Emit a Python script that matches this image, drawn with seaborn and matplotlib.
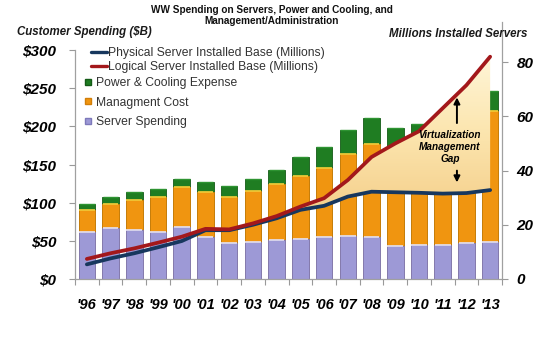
import numpy as np
import pandas as pd
import matplotlib
matplotlib.use("Agg")
import matplotlib.pyplot as plt
import seaborn as sns
from matplotlib.lines import Line2D
from matplotlib.colors import LinearSegmentedColormap

# ---- data -------------------------------------------------------------
years = ["'96", "'97", "'98", "'99", "'00", "'01", "'02", "'03", "'04",
         "'05", "'06", "'07", "'08", "'09", "'10", "'11", "'12", "'13"]
server_spending = [61, 67, 64, 61, 68.5, 54.7, 47, 48.5, 51, 53, 55.5, 57, 55.5, 43, 44.5, 45, 47.6, 49]
management_cost = [29, 32, 39, 46, 51.5, 59, 61, 66.5, 73, 82, 90.5, 107, 121, 129, 132, 143, 155, 171]
power_cooling = [8, 8, 11, 11, 11, 14, 14, 16, 19, 25, 27, 31, 34, 26, 27, 27, 27, 26]
physical_base = [5.4, 7.6, 9.5, 11.7, 14, 18, 18, 20, 22.4, 25.5, 27, 30.4, 32.2, 32, 31.8, 31.5, 31.7, 32.8]
logical_base = [7.4, 9.5, 11.3, 13.4, 15.6, 18.5, 18.3, 20.5, 23.2, 26.7, 29.8, 36.5, 45, 50, 54.5, 63, 71.5, 82]
left_ticks = [0, 50, 100, 150, 200, 250, 300]
left_tick_labels = ["$0", "$50", "$100", "$150", "$200", "$250", "$300"]
right_ticks = [0, 20, 40, 60, 80]

df = pd.DataFrame({"year": years, "server": server_spending,
                   "mgmt": management_cost, "power": power_cooling})
df["srv_mgmt"] = df["server"] + df["mgmt"]
df["total"] = df["srv_mgmt"] + df["power"]

PURPLE, PURPLE_EDGE = "#9D99D6", "#7D79BA"
ORANGE, ORANGE_EDGE = "#F09510", "#D27E08"
GREEN, GREEN_EDGE = "#1F7D22", "#145A16"
BLUE, RED = "#17375E", "#A3181B"

sns.set_theme(style="white")
plt.rcParams["font.family"] = ["Liberation Sans", "DejaVu Sans"]

fig = plt.figure(figsize=(5.5, 3.43), dpi=100)
ax = fig.add_axes([75 / 550, 64 / 343, 427 / 550, 257 / 343])

# ---- stacked bars (drawn back to front as cumulative totals) ----------
for col, fc, ec in [("total", GREEN, GREEN_EDGE),
                    ("srv_mgmt", ORANGE, ORANGE_EDGE),
                    ("server", PURPLE, PURPLE_EDGE)]:
    sns.barplot(data=df, x="year", y=col, ax=ax, color=fc, saturation=1,
                width=0.7, errorbar=None, edgecolor=ec, linewidth=0.6)

# light rim along the top of each segment
xs = np.arange(len(years))
ax.hlines(df["server"], xs - 0.33, xs + 0.33, color="#E4E2F6", lw=1.2, zorder=3)
ax.hlines(df["srv_mgmt"], xs - 0.33, xs + 0.33, color="#F8CF3A", lw=1.2, zorder=3)
ax.hlines(df["total"], xs - 0.33, xs + 0.33, color="#2E9432", lw=1.0, zorder=3)

ax.set_xlim(-0.5, 17.5)
ax.set_ylim(0, 337)
ax.set_xlabel("")
ax.set_ylabel("")
ax.set_yticks(left_ticks)
ax.set_yticklabels(left_tick_labels)
ax.set_xticks(xs)
ax.set_xticklabels(years)
ax.set_xticks(np.arange(-0.5, 18, 1), minor=True)

tick_font = dict(fontsize=11, fontweight="bold", fontstyle="italic", color="black")
for lbl in ax.get_yticklabels():
    lbl.set(**tick_font)
for lbl in ax.get_xticklabels():
    lbl.set(**{**tick_font, "fontsize": 10.5})

ax.tick_params(axis="y", left=True, length=4, width=0.8, color="#999999", pad=9.5)
ax.tick_params(axis="x", which="major", bottom=True, length=0, pad=14)
ax.tick_params(axis="x", which="minor", bottom=True, length=4, width=0.8, color="#999999")

for side in ["top", "right"]:
    ax.spines[side].set_visible(False)
for side in ["left", "bottom"]:
    ax.spines[side].set_color("#A0A0A0")
    ax.spines[side].set_linewidth(0.9)
ax.spines["left"].set_bounds(0, 300)

# ---- installed base lines on the right axis --------------------------
ax2 = ax.twinx()
ax2.set_ylim(0, 94.8)

poly = ax2.fill_between(xs, physical_base, logical_base, color="none", lw=0)
grad = LinearSegmentedColormap.from_list("gap", ["#F5D08C", "#FCE6B0", "#FFF7DC"])
img = ax2.imshow(np.linspace(0, 1, 256).reshape(-1, 1), cmap=grad, origin="lower",
                 extent=[0, 17, 25, 85], aspect="auto", zorder=1)
img.set_clip_path(poly.get_paths()[0], transform=ax2.transData)

sns.lineplot(x=xs, y=physical_base, ax=ax2, color=BLUE, lw=2.7, zorder=3)
sns.lineplot(x=xs, y=logical_base, ax=ax2, color=RED, lw=2.7, zorder=3)

ax2.set_xlim(-0.5, 17.5)
ax2.set_ylim(0, 94.8)
ax2.set_ylabel("")
ax2.set_yticks(right_ticks)
ax2.set_yticklabels([str(t) for t in right_ticks])
for lbl in ax2.get_yticklabels():
    lbl.set(**tick_font)
ax2.tick_params(axis="y", right=True, length=4, width=0.8, color="#999999", pad=6.5)
for side in ["top", "left", "bottom"]:
    ax2.spines[side].set_visible(False)
ax2.spines["right"].set_color("#A0A0A0")
ax2.spines["right"].set_linewidth(0.9)

# ---- gap annotation ---------------------------------------------------
ax2.text(15.3, 48.7, "Virtualization\nManagement\nGap", ha="center", va="center",
         fontsize=7.2, fontweight="bold", fontstyle="italic", color="black",
         linespacing=1.2, zorder=5)
ax2.annotate("", xy=(15.6, 68), xytext=(15.6, 56.5),
             arrowprops=dict(arrowstyle="-|>", color="black", lw=1.4,
                             mutation_scale=9), zorder=5)
ax2.annotate("", xy=(15.6, 34.6), xytext=(15.6, 41),
             arrowprops=dict(arrowstyle="-|>", color="black", lw=1.4,
                             mutation_scale=9), zorder=5)

# ---- titles -----------------------------------------------------------
fig.text(272 / 550, 1 - 15.5 / 343,
         "WW Spending on Servers, Power and Cooling, and\nManagement/Administration",
         ha="center", va="center", fontsize=7.2, fontweight="bold", color="#111111",
         linespacing=1.15)
fig.text(17 / 550, 1 - 32 / 343, "Customer Spending ($B)", ha="left", va="center",
         fontsize=8.3, fontweight="bold", fontstyle="italic", color="#1a1a1a")
fig.text(527 / 550, 1 - 34 / 343, "Millions Installed Servers", ha="right", va="center",
         fontsize=8.3, fontweight="bold", fontstyle="italic", color="#1a1a1a")

# ---- legends ----------------------------------------------------------
line_handles = [Line2D([], [], color=BLUE, lw=2.4), Line2D([], [], color=RED, lw=2.4)]
line_labels = ["Physical Server Installed Base (Millions)",
               "Logical Server Installed Base (Millions)"]
leg1 = fig.legend(line_handles, line_labels, loc="upper left",
                  bbox_to_anchor=(91 / 550, 1 - 47 / 343),
                  frameon=False, fontsize=8.7, handlelength=1.3, handletextpad=0.1,
                  labelspacing=0.15, borderpad=0, borderaxespad=0)

bar_handles = [
    Line2D([], [], marker="s", ls="", markersize=4.5, markerfacecolor=GREEN, markeredgecolor=GREEN_EDGE),
    Line2D([], [], marker="s", ls="", markersize=4.5, markerfacecolor=ORANGE, markeredgecolor=ORANGE_EDGE),
    Line2D([], [], marker="s", ls="", markersize=4.5, markerfacecolor=PURPLE, markeredgecolor=PURPLE_EDGE),
]
bar_labels = ["Power & Cooling Expense", "Managment Cost", "Server Spending"]
leg2 = fig.legend(bar_handles, bar_labels, loc="upper left",
                  bbox_to_anchor=(84 / 550, 1 - 77 / 343),
                  frameon=False, fontsize=8.7, handlelength=0.7, handletextpad=0.3,
                  labelspacing=0.63, borderpad=0, borderaxespad=0)
for leg in (leg1, leg2):
    for t in leg.get_texts():
        t.set_color("#333333")

fig.savefig("out.png", dpi=100)
